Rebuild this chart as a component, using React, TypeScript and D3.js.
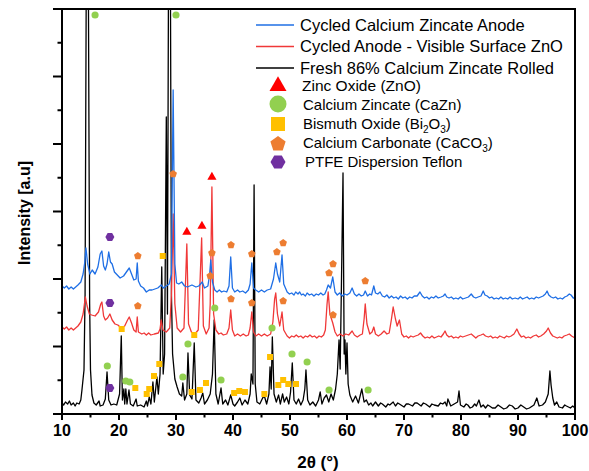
import React from 'react';
import * as d3 from 'd3';

type P = [number, number];

const xMajorTicks = [10, 20, 30, 40, 50, 60, 70, 80, 90, 100];
const xMinorTicks = [15, 25, 35, 45, 55, 65, 75, 85, 95];
const yMajorTicks = [0, 67.5, 135, 202.5, 270, 337.5, 405];
const yMinorTicks = [33.75, 101.25, 168.75, 236.25, 303.75, 371.25];

// Cycled Calcium Zincate Anode (blue)
const blueData: P[] = [
  [10.0, 128], [10.4, 126], [10.8, 128], [11.2, 125], [11.6, 127], [12.0, 125], [12.4, 127], [12.8, 129], [13.3, 132], [13.7, 140], [14.0, 152],
  [14.2, 166], [14.5, 150], [14.9, 140], [15.3, 144], [15.8, 140], [16.3, 147], [16.7, 160], [17.0, 163], [17.3, 148],
  [17.6, 144], [17.9, 150], [18.2, 162], [18.5, 152], [18.8, 150], [19.2, 142], [19.7, 139], [20.2, 136], [20.8, 138],
  [21.3, 142], [21.8, 146], [22.2, 140], [22.6, 134], [23.0, 135], [23.2, 151], [23.4, 133], [23.8, 128], [24.3, 126],
  [24.8, 122], [25.3, 124], [25.8, 124], [26.3, 125], [26.8, 126], [27.2, 128], [27.4, 129], [27.8, 126], [28.3, 128],
  [28.8, 130], [29.2, 140], [29.5, 324], [29.8, 150], [30.1, 131], [30.5, 130], [31.0, 132], [31.5, 128], [32.0, 127],
  [32.8, 129], [33.5, 127], [34.0, 128], [34.6, 132], [35.0, 126], [35.6, 128], [35.9, 140], [36.1, 154], [36.4, 132],
  [36.8, 124], [37.2, 122], [37.6, 124], [38.0, 122], [38.4, 123], [38.9, 122], [39.3, 128], [39.6, 157], [39.9, 126], [40.3, 122],
  [40.8, 124], [41.2, 122], [41.7, 123], [42.2, 121], [42.7, 124], [43.0, 130], [43.3, 151], [43.6, 126], [44.0, 124], [44.5, 122],
  [45.0, 124], [45.5, 122], [46.0, 124], [46.6, 125], [47.1, 135], [47.5, 151], [47.8, 140], [48.2, 132], [48.6, 159], [48.9, 130],
  [49.5, 122], [49.9, 120], [50.3, 121], [50.7, 119], [51.0, 122], [51.4, 120], [51.7, 122], [52.0, 119], [52.3, 120],
  [52.7, 118], [53.0, 121], [53.4, 119], [53.8, 120], [54.2, 118], [54.6, 120], [55.0, 119], [55.4, 121], [55.8, 119],
  [56.1, 120], [56.4, 124], [56.7, 129], [57.1, 126],
  [57.5, 137], [57.9, 122], [58.3, 119], [58.7, 121], [59.2, 118], [59.6, 120], [60.0, 119], [60.5, 121], [60.9, 126], [61.3, 120],
  [61.7, 118], [62.1, 120], [62.5, 118], [62.9, 119], [63.2, 123], [63.6, 118], [64.0, 120], [64.3, 119], [64.7, 128], [65.0, 121],
  [65.4, 120], [65.8, 122], [66.2, 118], [66.6, 117], [67.0, 119], [67.4, 116], [67.8, 118], [68.2, 116], [68.6, 117],
  [69.0, 115], [69.4, 118], [69.8, 116], [70.2, 117], [70.6, 115], [71.0, 117], [71.4, 116], [71.8, 118], [72.3, 118],
  [72.8, 122], [73.2, 118], [73.6, 116], [74.0, 117], [74.4, 115], [74.8, 117], [75.2, 116], [75.6, 118], [76.0, 116],
  [76.5, 117], [76.9, 118], [77.2, 120], [77.5, 117], [77.9, 116], [78.3, 117], [78.7, 115], [79.1, 116], [79.5, 115],
  [79.9, 117], [80.3, 115], [80.8, 116], [81.3, 117], [81.8, 120], [82.2, 117], [82.6, 116], [83.0, 117], [83.5, 118],
  [83.9, 123], [84.2, 119], [84.6, 118], [85.0, 116], [85.4, 117], [85.8, 115], [86.2, 116], [86.6, 115], [87.0, 117],
  [87.4, 115], [87.8, 116], [88.2, 115], [88.6, 117], [89.0, 115], [89.5, 116], [90.0, 115], [90.4, 117], [90.8, 115],
  [91.2, 116], [91.6, 117], [92.0, 115], [92.4, 116], [92.8, 115], [93.2, 117], [93.6, 116], [94.0, 117], [94.4, 118],
  [94.8, 120], [95.1, 123], [95.4, 119], [95.8, 117], [96.2, 116], [96.6, 117], [97.0, 115], [97.4, 116], [97.8, 115],
  [98.2, 117], [98.6, 118], [99.0, 120], [99.3, 119], [99.7, 116], [100.0, 116],
];

// Cycled Anode - Visible Surface ZnO (red)
const redData: P[] = [
  [10.0, 87], [10.4, 85], [10.8, 87], [11.2, 84], [11.6, 86], [12.0, 84], [12.4, 86], [12.8, 88], [13.3, 92], [13.7, 100], [14.1, 117],
  [14.4, 108], [14.8, 100], [15.2, 99], [15.8, 98], [16.4, 102], [16.8, 110], [17.0, 112], [17.3, 98], [17.6, 94],
  [18.0, 96], [18.4, 100], [18.8, 94], [19.3, 90], [19.8, 89], [20.4, 86], [21.0, 88], [21.5, 94], [21.8, 97],
  [22.2, 91], [22.6, 84], [23.0, 82], [23.2, 97], [23.4, 82], [24.0, 80], [24.4, 81], [24.8, 79], [25.2, 81], [25.6, 79], [26.2, 80],
  [26.9, 81], [27.2, 85], [27.4, 94], [27.7, 84], [28.3, 82], [28.9, 86], [29.2, 120], [29.5, 200], [29.8, 110],
  [30.2, 86], [30.8, 82], [31.4, 86], [31.9, 170], [32.2, 90], [32.7, 82], [33.3, 80], [33.9, 84], [34.5, 176],
  [34.8, 88], [35.3, 80], [35.8, 86], [36.0, 110], [36.3, 227], [36.6, 100], [37.0, 84], [37.5, 80], [37.9, 81], [38.3, 79],
  [38.9, 80], [39.3, 86], [39.6, 104], [39.9, 84], [40.3, 78], [40.8, 80], [41.3, 78], [41.8, 80], [42.3, 78], [42.7, 79], [43.0, 86],
  [43.3, 102], [43.6, 82], [44.0, 78], [44.5, 80], [45.0, 78], [45.5, 80], [46.0, 78], [46.6, 80], [47.0, 92], [47.3, 115], [47.5, 121],
  [47.8, 100], [48.2, 88], [48.6, 102], [48.9, 84], [49.5, 78], [49.9, 76], [50.3, 78], [50.7, 77], [51.1, 79], [51.5, 77],
  [51.9, 78], [52.3, 76], [52.7, 78], [53.1, 77], [53.5, 79], [53.9, 77], [54.3, 78], [54.7, 76], [55.1, 78], [55.5, 77],
  [55.9, 79], [56.2, 84], [56.5, 110], [56.7, 122], [57.0, 100], [57.5, 91], [57.9, 82], [58.3, 78], [58.8, 80],
  [59.3, 78], [59.8, 80], [60.3, 79], [60.9, 83], [61.3, 79], [61.8, 77], [62.3, 79], [62.7, 80], [63.0, 95], [63.2, 110], [63.5, 90], [64.0, 80],
  [64.4, 82], [64.7, 87], [65.0, 80], [65.5, 78], [66.0, 80], [66.5, 83], [67.0, 80], [67.4, 81], [67.8, 95], [68.1, 107], [68.5, 95], [68.8, 88],
  [69.2, 94], [69.6, 80], [70.0, 77], [70.4, 78], [70.8, 76], [71.2, 78], [71.6, 77], [72.0, 78], [72.5, 79], [72.9, 81],
  [73.3, 78], [73.7, 76], [74.1, 77], [74.5, 76], [74.9, 78], [75.3, 76], [75.7, 77], [76.1, 78], [76.5, 77], [76.9, 80],
  [77.2, 83], [77.5, 79], [77.9, 77], [78.3, 78], [78.7, 76], [79.1, 77], [79.5, 76], [79.9, 78], [80.3, 77], [80.8, 78],
  [81.3, 79], [81.8, 80], [82.2, 78], [82.6, 76], [83.0, 78], [83.5, 79], [83.9, 80], [84.3, 78], [84.8, 77], [85.2, 78],
  [85.6, 76], [86.0, 77], [86.4, 76], [86.8, 78], [87.2, 77], [87.6, 76], [88.0, 78], [88.4, 77], [88.8, 78], [89.3, 80],
  [89.8, 85], [90.2, 80], [90.6, 77], [91.0, 78], [91.4, 76], [91.8, 77], [92.2, 76], [92.7, 78], [93.2, 79], [93.6, 77],
  [94.0, 78], [94.5, 80], [95.0, 83], [95.3, 86], [95.7, 81], [96.1, 78], [96.5, 77], [96.9, 76], [97.3, 77], [97.7, 76],
  [98.1, 78], [98.6, 79], [99.0, 80], [99.4, 78], [99.7, 77], [100.0, 76],
];

// Fresh 86% Calcium Zincate Rolled (black)
const blackData: P[] = [
  [10.0, 11], [10.3, 9], [10.6, 12], [11.0, 10], [11.3, 13], [11.6, 9], [12.0, 11], [12.3, 8], [12.6, 11], [13.0, 10], [13.3, 14],
  [13.5, 24], [13.86, 44], [14.05, 120], [14.28, 470], [14.6, 470], [14.85, 110], [15.0, 44], [15.26, 19], [15.6, 11], [16.0, 9],
  [16.5, 13], [16.7, 8], [17.2, 9], [17.6, 15], [17.9, 42], [18.2, 14], [18.6, 9], [19.1, 10], [19.6, 9], [20.1, 20], [20.4, 78],
  [20.6, 14], [20.85, 25], [21.0, 10], [21.2, 25], [21.4, 10], [21.75, 24], [22.0, 10], [22.5, 8], [23.0, 15], [23.2, 8],
  [23.8, 9], [24.4, 7], [24.8, 13], [25.0, 8], [25.3, 17], [25.6, 10], [25.95, 32], [26.2, 12], [26.65, 37],
  [26.9, 20], [27.2, 40], [27.5, 147], [27.75, 40], [28.0, 60], [28.3, 297], [28.5, 100], [28.7, 470], [29.0, 470], [29.2, 120],
  [29.4, 60], [29.8, 35], [30.2, 27], [30.6, 20], [31.0, 18], [31.2, 31], [31.5, 14], [31.9, 20], [32.1, 61],
  [32.4, 19], [32.8, 15], [33.2, 71], [33.5, 14], [34.0, 11], [34.4, 16], [34.7, 21], [35.0, 10], [35.5, 14],
  [36.0, 20], [36.4, 40], [36.7, 94], [37.0, 20], [37.4, 10], [37.9, 26], [38.2, 10], [38.7, 14], [39.1, 9],
  [39.6, 19], [40.0, 10], [40.3, 8], [40.8, 12], [41.2, 16], [41.6, 9], [42.1, 14], [42.6, 10], [43.0, 20],
  [43.2, 40], [43.5, 30], [43.7, 229], [43.9, 30], [44.2, 12], [44.7, 10], [45.2, 16], [45.5, 18], [45.9, 10],
  [46.3, 20], [46.5, 47], [46.7, 25], [46.9, 77], [47.2, 20], [47.6, 12], [48.0, 19], [48.3, 10], [48.7, 20],
  [49.0, 12], [49.4, 17], [49.8, 10], [50.1, 22], [50.4, 51], [50.7, 14], [51.1, 10], [51.5, 15], [51.9, 9],
  [52.3, 14], [52.6, 25], [52.8, 44], [53.1, 14], [53.5, 9], [54.0, 12], [54.5, 8], [55.0, 14], [55.3, 22],
  [55.6, 10], [56.0, 16], [56.4, 19], [56.8, 12], [57.2, 20], [57.6, 14], [58.0, 25], [58.3, 40], [58.6, 74],
  [58.8, 45], [59.0, 120], [59.3, 241], [59.5, 60], [59.65, 74], [59.8, 40], [60.0, 71], [60.2, 30], [60.5, 19],
  [61.0, 12], [61.5, 18], [62.0, 11], [62.6, 25], [63.0, 12], [63.4, 14], [63.8, 9], [64.2, 11], [64.5, 8], [65.0, 12],
  [65.5, 8], [65.9, 11], [66.2, 10], [66.8, 7], [67.2, 10], [67.5, 9], [68.1, 12], [68.5, 8], [68.9, 11], [69.2, 10], [70.0, 7],
  [70.4, 10], [70.8, 10], [71.5, 8], [71.9, 11], [72.3, 11], [73.0, 8], [73.4, 11], [73.8, 10], [74.5, 7], [74.9, 10], [75.3, 9],
  [76.0, 8], [76.4, 11], [76.8, 10], [77.2, 12], [77.5, 8], [77.7, 15],
  [78.2, 8], [78.8, 10], [79.4, 12], [79.65, 23], [79.9, 9], [80.5, 7], [80.9, 10], [81.2, 9], [81.6, 6], [82.0, 7], [82.4, 10],
  [82.7, 8], [83.15, 14], [83.5, 7], [83.9, 9], [84.3, 6], [84.7, 9], [85.0, 8], [85.5, 6], [86.0, 6], [86.5, 9], [87.0, 7],
  [87.5, 5], [88.0, 6], [88.5, 9], [89.0, 8], [89.5, 5], [90.0, 6], [90.5, 9], [91.0, 7], [91.5, 5], [92.0, 6],
  [92.8, 9], [93.3, 16], [93.7, 8], [94.3, 9], [94.8, 12], [95.3, 20], [95.6, 43], [95.8, 29], [96.1, 16],
  [96.4, 9], [96.8, 12], [97.2, 7], [97.8, 6], [98.2, 9], [98.5, 8], [99.2, 6], [99.6, 8], [100.0, 6],
];

// Phase markers [2θ, intensity]
const znoMarks: P[] = [[31.9, 182], [34.55, 188], [36.3, 237]];
const cazMarks: P[] = [
  [15.8, 399], [30.0, 399], [17.95, 48], [21.2, 33], [21.9, 32], [31.2, 37], [32.1, 70], [36.8, 106],
  [37.9, 34], [46.85, 86], [50.35, 60], [53.0, 52], [56.85, 24], [63.7, 24],
];
const biMarks: P[] = [
  [20.47, 85], [22.86, 26], [24.86, 20], [25.3, 25], [26.14, 38], [27.07, 50], [27.67, 158], [32.75, 22],
  [33.2, 79], [34.2, 24], [35.26, 31], [40.2, 21], [41.1, 23], [42.1, 22], [45.5, 20], [46.5, 57],
  [47.95, 29], [48.8, 34], [49.7, 30], [51.05, 30],
];
const caco3Marks: P[] = [
  [29.5, 240], [23.3, 158], [23.3, 108], [36.3, 161], [36.0, 138], [39.65, 169], [39.65, 115], [43.3, 160],
  [43.3, 111], [47.7, 162], [48.8, 171], [48.8, 113], [56.85, 141], [57.55, 150], [57.55, 99], [63.2, 133],
];
const ptfeMarks: P[] = [[18.4, 177], [18.4, 111], [18.4, 26]];

const seriesNames = ['Cycled Calcium Zincate Anode', 'Cycled Anode - Visible Surface ZnO', 'Fresh 86% Calcium Zincate Rolled'];

const BLUE = '#1f6fe5';
const RED = '#f03838';
const BLACK = '#000000';
const GREEN = '#92d050';
const ORANGE = '#ed7d31';
const GOLD = '#ffc000';
const PURPLE = '#7030a0';
const ZRED = '#ff0000';
const FONT = '"Liberation Sans", Arial, Helvetica, sans-serif';

function polygon(n: number, r: number, rot: number): string {
  const pts: string[] = [];
  for (let i = 0; i < n; i++) {
    const a = rot + (i * 2 * Math.PI) / n;
    pts.push(`${(r * Math.cos(a)).toFixed(2)},${(r * Math.sin(a)).toFixed(2)}`);
  }
  return 'M' + pts.join('L') + 'Z';
}

export default function App() {
  const left = 62, right = 575, top = 9, bottom = 414;
  const x = d3.scaleLinear().domain([10, 100]).range([left, right]);
  const y = d3.scaleLinear().domain([0, 405]).range([bottom, top]);
  const line = d3.line<P>().x((d) => x(d[0])).y((d) => y(d[1]));

  const tri = (s: number) => d3.symbol().type(d3.symbolTriangle).size(s)() as string;
  const circ = (s: number) => d3.symbol().type(d3.symbolCircle).size(s)() as string;
  const sq = (s: number) => d3.symbol().type(d3.symbolSquare).size(s)() as string;
  const pent = (r: number) => polygon(5, r, -Math.PI / 2);
  const hex = (r: number) => polygon(6, r, 0);

  const markerLayer = (data: P[], path: string, fill: string, key: string) =>
    data.map((d, i) => (
      <path key={key + i} d={path} fill={fill} transform={`translate(${x(d[0])},${y(d[1])})`} />
    ));

  const legendX = 278;
  return (
    <svg width={589} height={471} style={{ position: 'absolute', left: 0, top: 0, background: '#fff' }} fontFamily={FONT}>
      <defs>
        <clipPath id="plotClip">
          <rect x={left} y={top} width={right - left} height={bottom - top} />
        </clipPath>
      </defs>
      <rect x={0} y={0} width={589} height={471} fill="#fff" />
      <g clipPath="url(#plotClip)">
        <path d={line(blackData) as string} fill="none" stroke={BLACK} strokeWidth={1.3} strokeLinejoin="round" />
        <path d={line(redData) as string} fill="none" stroke={RED} strokeWidth={1.3} strokeLinejoin="round" />
        <path d={line(blueData) as string} fill="none" stroke={BLUE} strokeWidth={1.3} strokeLinejoin="round" />
      </g>
      {markerLayer(cazMarks, circ(40), GREEN, 'c')}
      {markerLayer(biMarks, sq(36), GOLD, 'b')}
      {markerLayer(caco3Marks, pent(4), ORANGE, 'o')}
      {markerLayer(ptfeMarks, hex(4.5), PURPLE, 'p')}
      {markerLayer(znoMarks, tri(36), ZRED, 'z')}

      {/* frame */}
      <rect x={left} y={top} width={right - left} height={bottom - top} fill="none" stroke="#000" strokeWidth={2} />
      {/* y ticks */}
      {yMajorTicks.map((t) => (
        <line key={'ym' + t} x1={left - 9} x2={left} y1={y(t)} y2={y(t)} stroke="#000" strokeWidth={2} />
      ))}
      {yMinorTicks.map((t) => (
        <line key={'yn' + t} x1={left - 4.5} x2={left} y1={y(t)} y2={y(t)} stroke="#000" strokeWidth={2} />
      ))}
      {/* x ticks */}
      {xMajorTicks.map((t) => (
        <line key={'xm' + t} x1={x(t)} x2={x(t)} y1={bottom} y2={bottom + 6} stroke="#000" strokeWidth={2} />
      ))}
      {xMinorTicks.map((t) => (
        <line key={'xn' + t} x1={x(t)} x2={x(t)} y1={bottom} y2={bottom + 3.5} stroke="#000" strokeWidth={2} />
      ))}
      {xMajorTicks.map((t) => (
        <text key={'xl' + t} x={x(t)} y={436} textAnchor="middle" fontSize={16} fontWeight="bold">{t}</text>
      ))}
      <text x={318} y={468} textAnchor="middle" fontSize={17} fontWeight="bold">2θ (°)</text>
      <text transform="translate(30,213) rotate(-90)" textAnchor="middle" fontSize={16} fontWeight="bold">Intensity [a.u]</text>

      {/* legend */}
      {[BLUE, RED, BLACK].map((c, i) => (
        <g key={'leg' + i}>
          <line x1={256} x2={294} y1={25 + i * 21.5} y2={25 + i * 21.5} stroke={c} strokeWidth={1.3} />
          <text x={300} y={25 + i * 21.5} dy="0.35em" fontSize={16.5}>{seriesNames[i]}</text>
        </g>
      ))}
      <path d={tri(125)} fill={ZRED} transform={`translate(${legendX},86)`} />
      <text x={302} y={86} dy="0.35em" fontSize={15.5}>Zinc Oxide (ZnO)</text>
      <path d={circ(227)} fill={GREEN} transform={`translate(${legendX},104)`} />
      <text x={303} y={105} dy="0.35em" fontSize={15}>Calcium Zincate (CaZn)</text>
      <path d={sq(196)} fill={GOLD} transform={`translate(${legendX},124)`} />
      <text x={303} y={124} dy="0.35em" fontSize={15}>
        Bismuth Oxide (Bi<tspan fontSize={10} dy={4}>2</tspan><tspan dy={-4}>O</tspan><tspan fontSize={10} dy={4}>3</tspan><tspan dy={-4}>)</tspan>
      </text>
      <path d={pent(8)} fill={ORANGE} transform={`translate(${legendX},144)`} />
      <text x={303} y={143} dy="0.35em" fontSize={15}>
        Calcium Carbonate (CaCO<tspan fontSize={10} dy={4}>3</tspan><tspan dy={-4}>)</tspan>
      </text>
      <path d={hex(7.5)} fill={PURPLE} transform={`translate(${legendX},162)`} />
      <text x={305} y={162} dy="0.35em" fontSize={15}>PTFE Dispersion Teflon</text>
    </svg>
  );
}
